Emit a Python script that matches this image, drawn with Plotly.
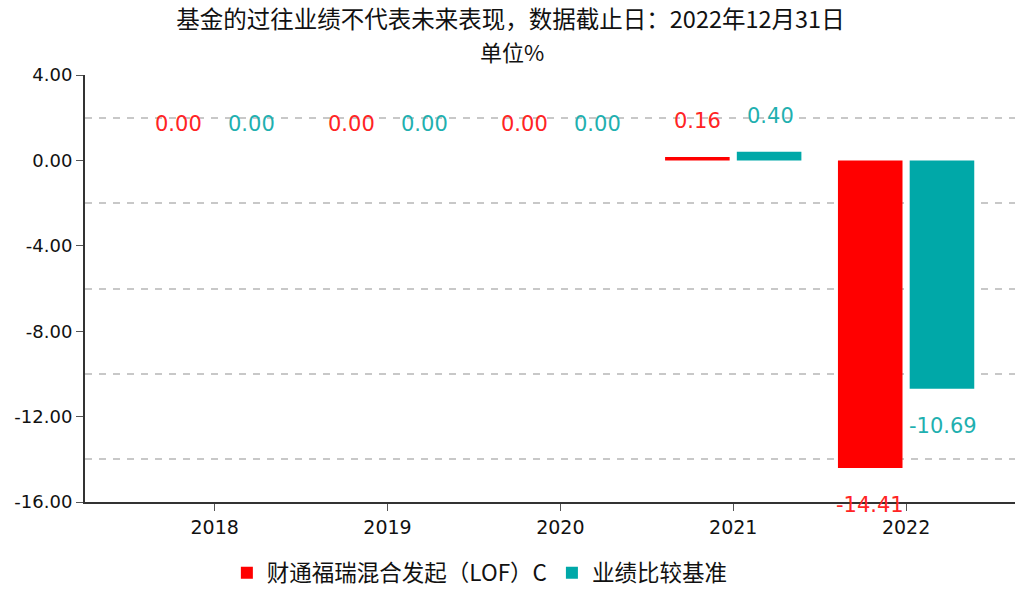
import plotly.graph_objects as go

years = ["2018", "2019", "2020", "2021", "2022"]
fund_name = "财通福瑞混合发起（LOF）C"
bench_name = "业绩比较基准"
fund_values = [0.00, 0.00, 0.00, 0.16, -14.41]
bench_values = [0.00, 0.00, 0.00, 0.40, -10.69]
y_ticks = [-16, -12, -8, -4, 0, 4]
grid_vals = [4, 2, -2, -6, -10, -14]
title_line1 = "基金的过往业绩不代表未来表现，数据截止日：2022年12月31日"
title_line2 = "单位%"

RED = "#FF0000"
TEAL = "#00A8A8"
RED_TXT = "#FF2424"
TEAL_TXT = "#1FB0B0"
CJK = "Noto Sans CJK SC"
NUM = "DejaVu Sans"

fig = go.Figure()
fig.add_trace(go.Bar(x=years, y=fund_values, name=fund_name,
                     marker=dict(color=RED, line=dict(width=0))))
fig.add_trace(go.Bar(x=years, y=bench_values, name=bench_name,
                     marker=dict(color=TEAL, line=dict(width=0))))
# invisible trace to carry the secondary (grid) axis
fig.add_trace(go.Scatter(x=years, y=fund_values, yaxis="y2", mode="markers",
                         marker=dict(opacity=0), showlegend=False, hoverinfo="skip"))

annotations = []
for i, yr in enumerate(years):
    for vals, shift, col in ((fund_values, -36, RED_TXT), (bench_values, 37, TEAL_TXT)):
        v = vals[i]
        annotations.append(dict(
            x=i, y=v, xref="x", yref="y", text=f"{v:.2f}", showarrow=False,
            xshift=shift, yshift=36 if v >= 0 else -37,
            font=dict(family=NUM, size=21, color=col)))

# second title line
annotations.append(dict(text=title_line2, xref="paper", yref="paper",
                        x=0.459, y=1.0562, xanchor="center", yanchor="middle",
                        showarrow=False, font=dict(family=CJK, size=22, color="#111111")))

fig.update_layout(
    width=1021, height=592,
    paper_bgcolor="white", plot_bgcolor="white",
    margin=dict(l=85, r=6, t=75, b=90),
    barmode="group", bargap=0.17, bargroupgap=0.1,
    title=dict(text=title_line1, x=0.5, xanchor="center", y=0.966, yanchor="middle",
               font=dict(family=CJK, size=23.5, color="#111111")),
    showlegend=True,
    legend=dict(orientation="h", x=0.47, xanchor="center", y=0.032, yanchor="middle",
                xref="container", yref="container",
                font=dict(family=CJK, size=22.5, color="#111111"),
                itemsizing="constant", traceorder="normal"),
    xaxis=dict(type="category", range=[-0.75, 4.63], showgrid=False,
               showline=True, linecolor="#333333", linewidth=2,
               ticks="outside", ticklen=7, tickcolor="#555555",
               tickfont=dict(family=NUM, size=19, color="#111111"), zeroline=False),
    yaxis=dict(range=[-16, 4], tickmode="array", tickvals=y_ticks,
               ticktext=[f"{t:.2f}" for t in y_ticks], showgrid=False, zeroline=False,
               showline=True, linecolor="#333333", linewidth=2,
               ticks="outside", ticklen=7, tickcolor="#555555",
               tickfont=dict(family=NUM, size=18, color="#111111")),
    yaxis2=dict(range=[-16, 4], overlaying="y", side="left", tickmode="array",
                tickvals=grid_vals, showticklabels=False, ticks="",
                showgrid=True, gridcolor="#C8C8C8", gridwidth=2, griddash="7px,7px",
                zeroline=False, showline=False),
    annotations=annotations,
)

fig.write_html("out.html", config={"displayModeBar": False},
               post_script="document.body.style.margin='0';")
